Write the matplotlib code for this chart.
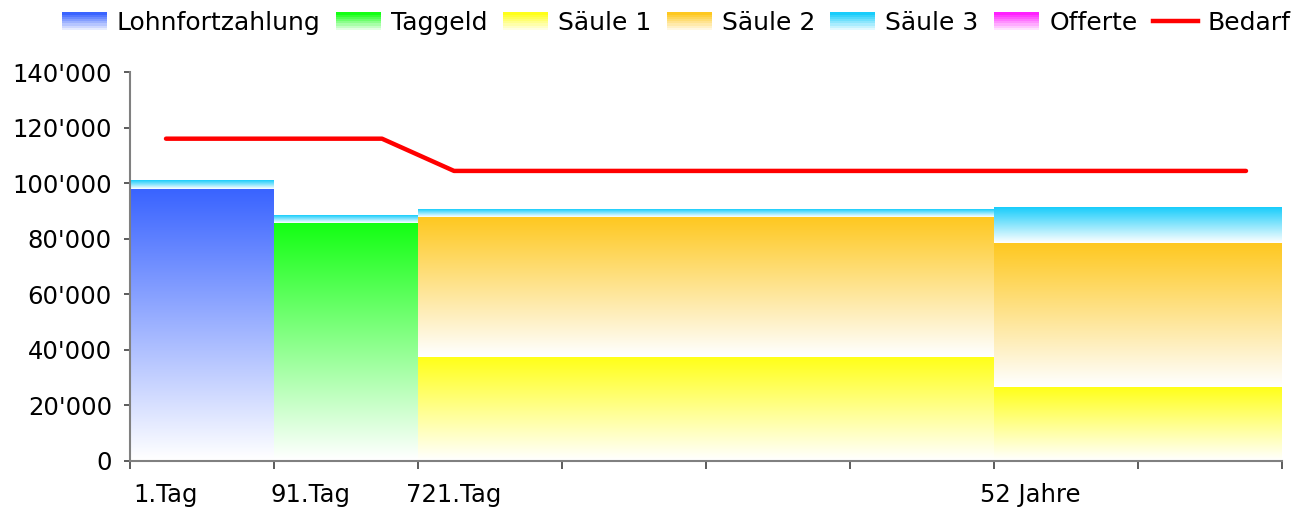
import numpy as np
import matplotlib
matplotlib.use("Agg")
import matplotlib.pyplot as plt
from matplotlib.patches import Patch, Rectangle
from matplotlib.lines import Line2D
from matplotlib.legend_handler import HandlerBase
from matplotlib.colors import to_rgb
from matplotlib.ticker import FuncFormatter

# one value per time slot (8 slots on the category axis)
lohnfortzahlung = [98000, 0, 0, 0, 0, 0, 0, 0]
taggeld = [0, 85800, 0, 0, 0, 0, 0, 0]
saeule1 = [0, 0, 37400, 37400, 37400, 37400, 26600, 26600]
saeule2 = [0, 0, 50500, 50500, 50500, 50500, 52000, 52000]
saeule3 = [2900, 2700, 2800, 2800, 2800, 2800, 12800, 12800]
offerte = [0, 0, 0, 0, 0, 0, 0, 0]

# Bedarf line has twice the resolution (16 points)
bedarf = [116000, 116000, 116000, 116000,
          104400, 104400, 104400, 104400, 104400, 104400,
          104400, 104400, 104400, 104400, 104400, 104400]

# labels sit on some of the Bedarf points
x_labels = ["1.Tag", "91.Tag", "721.Tag", "52 Jahre"]
x_label_idx = [0, 2, 4, 12]

series = [
    ("Lohnfortzahlung", lohnfortzahlung, "#3a64ff"),
    ("Taggeld", taggeld, "#14ff14"),
    ("Säule 1", saeule1, "#ffff1a"),
    ("Säule 2", saeule2, "#fec820"),
    ("Säule 3", saeule3, "#19cdfb"),
    ("Offerte", offerte, "#ff20ff"),
]


def gradient(color, n=64):
    c = np.array(to_rgb(color))
    t = np.linspace(0, 1, n)[:, None]
    rgb = 1 - t * (1 - c)  # white at bottom, full colour at top
    img = np.ones((n, 1, 4))
    img[:, 0, :3] = rgb
    return img


class GradientHandler(HandlerBase):
    def create_artists(self, legend, orig_handle, xdescent, ydescent,
                       width, height, fontsize, trans):
        c = np.array(to_rgb(orig_handle.get_facecolor()))
        n = 8
        arts = []
        for i in range(n):
            t = (i + 1) / n
            col = 1 - t * (1 - c)
            r = Rectangle((-xdescent, -ydescent + i * height / n), width,
                          height / n + 0.3, facecolor=col, edgecolor="none",
                          transform=trans)
            arts.append(r)
        return arts


fig = plt.figure(figsize=(13.08, 5.09), dpi=100)
ax = fig.add_axes([130 / 1308, 1 - 461 / 509, 1152 / 1308, 389 / 509])

x = np.arange(len(lohnfortzahlung))
bottom = np.zeros(len(x))
for name, vals, color in series:
    vals = np.array(vals, dtype=float)
    bars = ax.bar(x, vals, width=1.0, bottom=bottom, align="edge",
                  color="none", edgecolor="none")
    img = gradient(color)
    for p in bars.patches:
        if p.get_height() <= 0:
            continue
        x0, y0 = p.get_x(), p.get_y()
        ax.imshow(img, extent=(x0, x0 + p.get_width(), y0, y0 + p.get_height()),
                  origin="lower", aspect="auto", interpolation="bilinear",
                  zorder=1)
    bottom += vals

xl = 0.25 + 0.5 * np.arange(len(bedarf))
ax.plot(xl, bedarf, color="#ff0000", lw=3.2, solid_capstyle="round",
        solid_joinstyle="round", zorder=3)

ax.set_xlim(0, 8)
ax.set_ylim(0, 140000)
ax.set_yticks(np.arange(0, 140001, 20000))
ax.yaxis.set_major_formatter(FuncFormatter(lambda v, _: f"{int(v):,}".replace(",", "'")))
ax.tick_params(axis="y", labelsize=17.5, length=4, width=1.2, color="#404040", pad=9)

ax.set_xticks(np.arange(0, 9))
ax.set_xticklabels([])
ax.set_xticks(xl[x_label_idx], minor=True)
ax.set_xticklabels(x_labels, minor=True)
ax.tick_params(axis="x", which="major", length=6, width=1.2, color="#404040")
ax.tick_params(axis="x", which="minor", length=0, labelsize=17.5, pad=16)

for s in ["top", "right"]:
    ax.spines[s].set_visible(False)
for s in ["left", "bottom"]:
    ax.spines[s].set_color("#808080")
    ax.spines[s].set_linewidth(1.5)

handles = [Patch(facecolor=c) for _, _, c in series]
handles.append(Line2D([], [], color="#ff0000", lw=3.2))
labels = [n for n, _, _ in series] + ["Bedarf"]
fig.legend(handles, labels, loc="center", bbox_to_anchor=(0.517, 1 - 23 / 509),
           ncol=7, frameon=False, fontsize=18, handlelength=1.8,
           handleheight=0.7, handletextpad=0.4, columnspacing=0.62,
           borderaxespad=0, borderpad=0,
           handler_map={Patch: GradientHandler()})

fig.savefig("out.png", dpi=100)
